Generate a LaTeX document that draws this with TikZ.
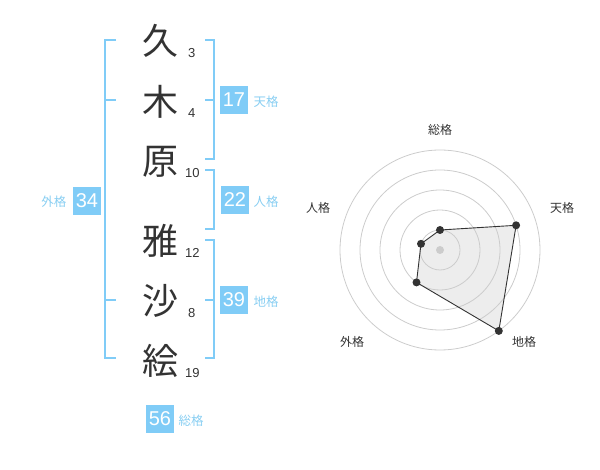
\documentclass[tikz,border=0pt]{standalone}
\usepackage{fontspec}
\setmainfont{Liberation Sans}
\newfontfamily\jp{Noto Sans CJK JP}
\definecolor{kblue}{RGB}{128,204,247}
\definecolor{lblue}{RGB}{136,206,242}
\definecolor{dark}{RGB}{51,51,51}
\definecolor{ring}{RGB}{204,204,204}
\tikzset{
  kanji/.style={font=\jp\fontsize{36}{36}\selectfont, text=dark, inner sep=0pt},
  strokes/.style={font=\fontsize{13}{13}\selectfont, text=dark, inner sep=0pt, anchor=west},
  valbox/.style={fill=kblue, text=white, minimum width=28pt, minimum height=28pt, inner sep=0pt, font=\fontsize{20}{20}\selectfont},
  kaku/.style={font=\jp\fontsize{12.5}{12.5}\selectfont, text=lblue, inner sep=0pt},
  brk/.style={draw=kblue, line width=2pt},
  axislbl/.style={font=\jp\fontsize{12}{12}\selectfont, text=dark, inner sep=0pt},
  ringc/.style={draw=ring, line width=0.8pt},
  dotc/.style={circle, fill=dark, inner sep=0pt, minimum size=8pt},
}
\begin{document}
\begin{tikzpicture}[x=1pt,y=-1pt]
\useasboundingbox (0,0) rectangle (600,470);
% kanji
\node[kanji] (k1) at (160,41) {久};
\node[kanji] (k2) at (160,102) {木};
\node[kanji] (k3) at (160,162) {原};
\node[kanji] (k4) at (160,241) {雅};
\node[kanji] (k5) at (160,301) {沙};
\node[kanji] (k6) at (160,361) {絵};
% stroke counts
\node[strokes] (n1) at (188,53) {3};
\node[strokes] (n2) at (188,113) {4};
\node[strokes] (n3) at (185,173) {10};
\node[strokes] (n4) at (185,253) {12};
\node[strokes] (n5) at (188,313) {8};
\node[strokes] (n6) at (185,373) {19};
% brackets
\draw[brk] (116,40) -- (105,40) -- (105,358) -- (116,358);
\draw[brk] (105,100) -- (116,100);
\draw[brk] (105,300) -- (116,300);
\draw[brk] (205,40) -- (214,40) -- (214,159) -- (205,159);
\draw[brk] (205,100) -- (214,100);
\draw[brk] (205,170) -- (214,170) -- (214,229) -- (205,229);
\draw[brk] (205,240) -- (214,240) -- (214,358) -- (205,358);
\draw[brk] (205,300) -- (214,300);
% value boxes
\node[valbox] (ten) at (234,100) {17};
\node[kaku] (tenl) at (266,102) {天格};
\node[valbox] (jin) at (235,200) {22};
\node[kaku] (jinl) at (266,202) {人格};
\node[valbox] (chi) at (234,300) {39};
\node[kaku] (chil) at (266,302) {地格};
\node[valbox] (gai) at (87,201) {34};
\node[kaku] (gail) at (54,202) {外格};
\node[valbox] (sou) at (160,419) {56};
\node[kaku] (soul) at (191,421) {総格};
% radar
\coordinate (c) at (440,250);
\coordinate (p1) at (440,230);
\coordinate (p2) at (516.1,225.3);
\coordinate (p3) at (498.8,330.9);
\coordinate (p4) at (416.5,282.4);
\coordinate (p5) at (421.0,243.8);
\fill[black!7] (p1) -- (p2) -- (p3) -- (p4) -- (p5) -- cycle;
\foreach \r in {20,40,60,80,100} \draw[ringc] (c) circle[radius=\r];
\fill[ring] (c) circle[radius=4];
\draw[dark, line width=0.9pt] (p1) -- (p2) -- (p3) -- (p4) -- (p5) -- cycle;
\foreach \p in {p1,p2,p3,p4,p5} \node[dotc] at (\p) {};
\node[axislbl] (a1) at (440,130) {総格};
\node[axislbl] (a2) at (562,208) {天格};
\node[axislbl] (a3) at (524,342) {地格};
\node[axislbl] (a4) at (352,342) {外格};
\node[axislbl] (a5) at (318,208) {人格};
\end{tikzpicture}
\end{document}
